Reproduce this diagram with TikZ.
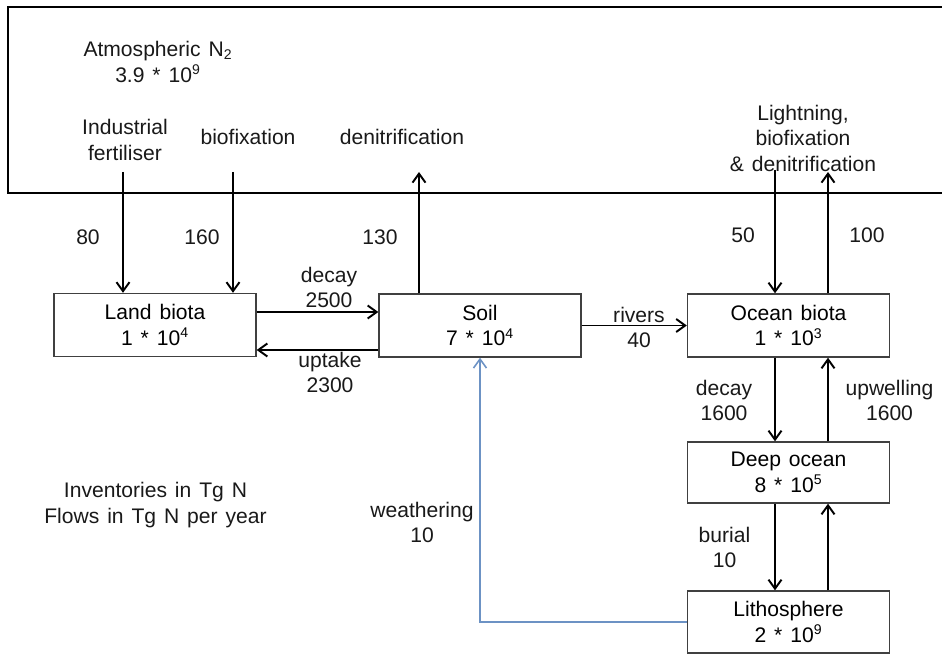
\documentclass[tikz,border=0pt]{standalone}
\usepackage{fontspec}
\setmainfont{Liberation Sans}[WordSpace={1.35,1,1}]
\usepackage{tikz}
\usetikzlibrary{arrows.meta}
\usepackage{xcolor}
\definecolor{weatherblue}{RGB}{108,146,196}
\newcommand{\tenp}[1]{10\textsuperscript{#1}}
\tikzset{
  pool/.style   ={draw=black!75, line width=0.8pt, minimum width=4.04cm, minimum height=1.26cm, inner sep=0pt, align=center},
  flow/.style   ={-{Straight Barb[length=1.8mm,width=2.6mm]}, line width=1.1pt},                 % flux arrow
  weather/.style={-{Straight Barb[length=1.8mm,width=2.6mm]}, line width=0.9pt, weatherblue},   % weathering return
  lbl/.style    ={align=center, inner sep=0pt, text=black!90},
}

\begin{document}
\begin{tikzpicture}[x=0.02cm, y=-0.02cm, font=\fontsize{12}{14.5}\selectfont]
  \useasboundingbox (0,0) rectangle (942,655);
  \clip (0,0) rectangle (942,655);

  % --- atmosphere ---
  \draw[line width=1.5pt] (970,7) -- (8,7) -- (8,193) -- (970,193);
  \node[lbl] (atm)  at (158,62)  {Atmospheric N\textsubscript{2}\\3.9 * \tenp{9}};
  \node[lbl] (fert) at (125,140) {Industrial\\fertiliser};
  \node[lbl] (bfx)  at (248,137) {biofixation};
  \node[lbl] (den)  at (402,137) {denitrification};
  \node[lbl] (lgt)  at (803,138) {Lightning,\\biofixation\\\& denitrification};
  \coordinate (fertTop)  at (123,172);
  \coordinate (bfxTop)   at (233,172);
  \coordinate (denTop)   at (419,172);
  \coordinate (lgtIn)    at (775,170);
  \coordinate (lgtOut)   at (828,172);

  % --- pools ---
  \node[pool] (land)  at (155,325)   {Land biota\\1 * \tenp{4}};
  \node[pool] (soil)  at (480,325.5) {Soil\\7 * \tenp{4}};
  \node[pool] (ocean) at (788.5,325.5) {Ocean biota\\1 * \tenp{3}};
  \node[pool, minimum height=1.22cm] (deep)  at (788.5,472.5) {Deep ocean\\8 * \tenp{5}};
  \node[pool, minimum height=1.24cm] (litho) at (788.5,622)   {Lithosphere\\2 * \tenp{9}};

  % --- atmosphere fluxes ---
  \draw[flow] (fertTop) -- (fertTop |- land.north);
  \draw[flow] (bfxTop) -- (bfxTop |- land.north);
  \draw[flow] (denTop |- soil.north) -- (denTop);
  \draw[flow] (lgtIn) -- (lgtIn |- ocean.north);
  \draw[flow] (lgtOut |- ocean.north) -- (lgtOut);
  \node[lbl] (n80)  at (88,237)  {80};
  \node[lbl] (n160) at (202,237) {160};
  \node[lbl] (n130) at (380,237) {130};
  \node[lbl] (n50)  at (743,235) {50};
  \node[lbl] (n100) at (867,235) {100};

  % --- land <-> soil -> ocean ---
  \coordinate (decayY)  at (0,312);
  \coordinate (uptakeY) at (0,350);
  \draw[flow] (land.east |- decayY) -- (soil.west |- decayY);
  \draw[flow] (soil.west |- uptakeY) -- (land.east |- uptakeY);
  \draw[flow] (soil.east) -- (ocean.west);
  \node[lbl] (decayL)  at (329,287.5) {decay\\2500};
  \node[lbl] (uptakeL) at (330,372.5) {uptake\\2300};
  \node[lbl] (riverL)  at (639,327.5) {rivers\\40};

  % --- ocean column ---
  \coordinate (downX) at (775,0);
  \coordinate (upX)   at (828,0);
  \draw[flow] (ocean.south -| downX) -- (deep.north -| downX);
  \draw[flow] (deep.north -| upX) -- (ocean.south -| upX);
  \draw[flow] (deep.south -| downX) -- (litho.north -| downX);
  \draw[flow] (litho.north -| upX) -- (deep.south -| upX);
  \node[lbl] (odecayL) at (724,400.5)   {decay\\1600};
  \node[lbl] (upwellL) at (889.5,400.5) {upwelling\\1600};
  \node[lbl] (burialL) at (724.5,547.5) {burial\\10};

  % --- weathering ---
  \draw[weather] (litho.west) -| (soil.south);
  \node[lbl] (weathL) at (422,522.5) {weathering\\10};

  % --- units ---
  \node[lbl] (units) at (155.5,505) {Inventories in Tg N\\Flows in Tg N per year};
\end{tikzpicture}
\end{document}
